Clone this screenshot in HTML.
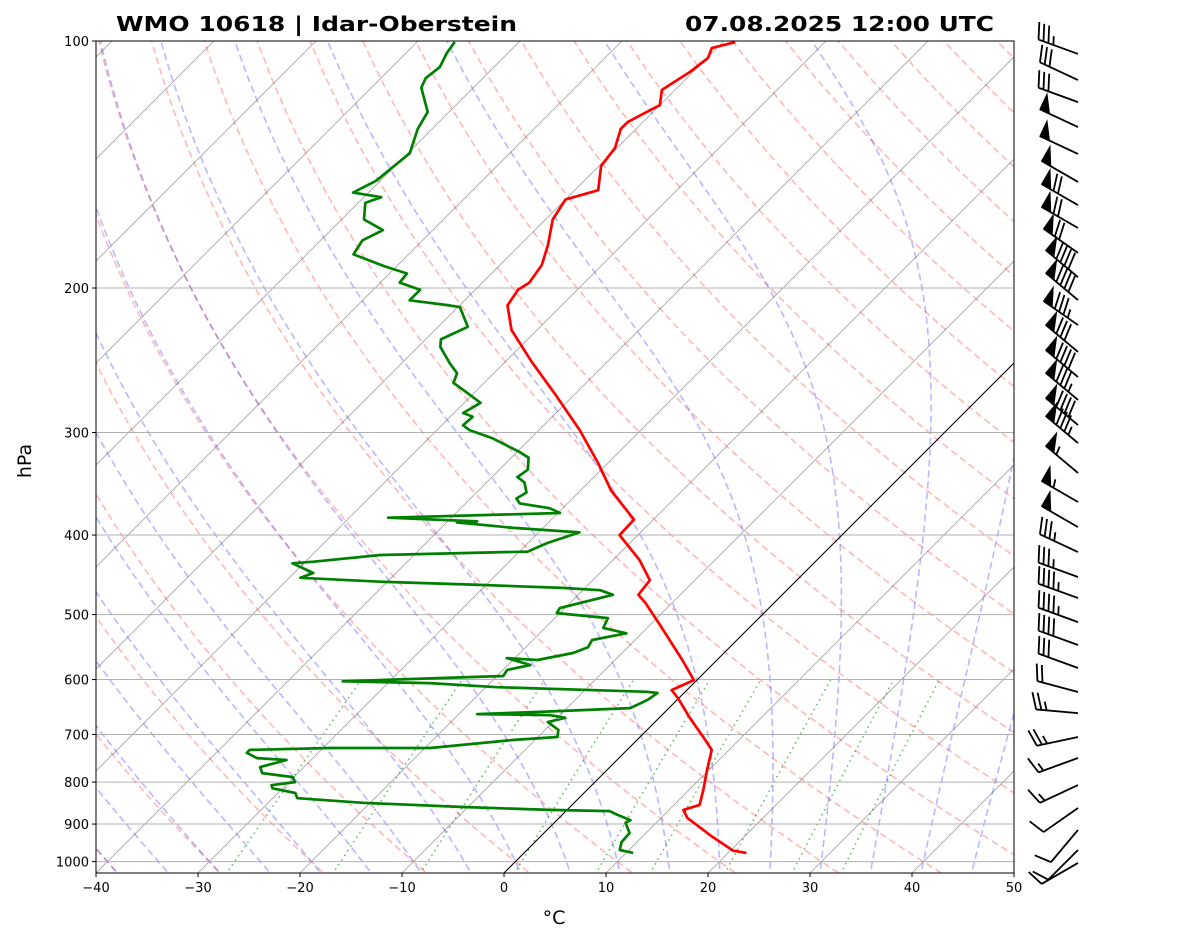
<!DOCTYPE html>
<html><head><meta charset="utf-8"><style>
html,body{margin:0;padding:0;background:#fff;}
svg{display:block;font-family:"DejaVu Sans","Liberation Sans",sans-serif;}
</style></head><body>
<svg id="chart" width="1181" height="941" viewBox="0 0 1181 941" xmlns="http://www.w3.org/2000/svg">
<defs><clipPath id="plotclip"><rect x="96" y="41" width="918" height="832"/></clipPath></defs>
<rect x="0" y="0" width="1181" height="941" fill="#fff"/>
<g id="bg" clip-path="url(#plotclip)"></g>
<g id="grid" clip-path="url(#plotclip)"></g>
<g id="series" clip-path="url(#plotclip)"></g>
<rect x="96" y="41" width="918" height="832" fill="none" stroke="#000" stroke-width="1"/>
<g id="axes"></g>
<g id="barbs"></g>
<text x="116" y="31" font-size="20" font-weight="bold" textLength="401" lengthAdjust="spacingAndGlyphs">WMO 10618 | Idar-Oberstein</text>
<text x="685" y="31" font-size="20" font-weight="bold" textLength="309" lengthAdjust="spacingAndGlyphs">07.08.2025 12:00 UTC</text>
<text x="554" y="924" font-size="19" text-anchor="middle">°C</text>
<text x="31" y="461" font-size="19" text-anchor="middle" transform="rotate(-90 31 461)">hPa</text>
</svg>
<script>
const tempP=[976,970,933,885,865,853,818,773,731,711,668,632,618,601,568,515,484,473,454,429,400,383,353,326,298,270,246,225,210,201,197,187.5,177,165,156,152,142,135,128,125.5,119.7,114.7,109.1,104.9,102,100.3];
const tempT=[21.8,20.3,16.9,12.6,11.4,12.5,11.4,9.8,8.3,6.7,3.0,-0.1,-1.5,-0.3,-3.4,-9.0,-12.6,-14.1,-14.4,-17.4,-21.8,-21.9,-27.0,-31.1,-36.0,-41.8,-47.4,-52.5,-55.3,-55.8,-55.4,-55.9,-57.3,-59.3,-60.0,-57.7,-59.8,-60.2,-61.5,-61.5,-60.0,-61.3,-60.3,-59.9,-60.5,-58.8];
const dewP=[976,968,947,923,897,890,877,868,865,858,848,837,825,814,807,800,789,780,767,752,748,737,731,727,727,711,705,691,676,668,663,661,657,650,635,623,621,613,606,603,594,584,576,565,568,557,548,537,527,519,505,498,491,473,467,464,460,456,451,445,433,431,423,419,409,397,392,386,385,381,376,371,366,361,355,345,340,333,322,317,305,298,294,287,284,276,268,261,254,247,236,231,223,211,210,207,201,197,192,188,182,175,170,165,157.5,155,153,148,137,128,122,114,111,107.6,103.4,100.3];
const dewT=[10.7,9.1,8.5,8.4,7.0,7.2,5.4,4.3,-1.7,-10.5,-20.7,-27.6,-28.3,-31.0,-31.4,-29.4,-30.1,-33.5,-34.3,-32.4,-35.5,-37.0,-37.0,-29.3,-19.5,-12.2,-8.1,-8.7,-10.5,-9.2,-11.0,-18.2,-12.3,-3.8,-2.9,-2.6,-3.7,-18.9,-25.9,-34.6,-19.4,-19.6,-17.8,-20.8,-17.6,-14.8,-13.9,-14.2,-11.5,-14.3,-14.8,-20.3,-20.5,-16.6,-18.3,-22.2,-30.6,-40.7,-48.9,-48.1,-51.1,-49.2,-43.3,-29.2,-28.1,-26.0,-32.9,-39.0,-37.1,-46.2,-29.8,-31.3,-34.7,-35.5,-35.1,-36.3,-37.5,-37.2,-38.3,-39.7,-43.7,-46.8,-47.9,-47.8,-49.1,-48.4,-50.8,-53.0,-53.6,-55.3,-57.8,-58.5,-57.1,-59.8,-61.0,-65.4,-65.4,-68.1,-68.3,-71.3,-75.4,-75.9,-74.9,-77.8,-79.3,-78.3,-81.5,-80.4,-79.8,-81.4,-82.1,-85.1,-85.6,-85.3,-86.0,-86.3];
const windP=[103.7,111.6,118.7,127.3,137.3,148.5,158.5,169,181.2,194,206.9,221.9,239.3,256.8,273.8,293.8,309,336,364.6,391.2,419.5,450,477.4,510.7,544.6,580.9,621.4,659.2,705,747.7,806.7,860.3,915,967.9,1003.7];
const windDir=[290,295,290,295,295,300,300,300,305,310,310,305,310,310,310,310,310,310,300,300,295,290,290,290,290,290,285,275,258,250,245,235,220,225,240];
const windSpd=[35,30,30,50,50,50,70,70,70,90,90,85,80,90,85,90,85,55,55,50,35,35,45,45,40,30,20,25,25,15,15,10,10,10,10];
const xTicks=[-40,-30,-20,-10,0,10,20,30,40,50];
const yTicks=[100,200,300,400,500,600,700,800,900,1000];
const mixW=[0.4,1,2,4,7,10,16,24,32];

const NS='http://www.w3.org/2000/svg';
const X0=96,X1=1014,Y0=41,Y1=873,PX=10.2,DEC=820.6;
function yOf(p){return Y0+DEC*Math.log10(p/100);}
function xOf(T,p){return X0+PX*(T+40)+(Y1-yOf(p));}
function mk(tag,attrs,parent){const e=document.createElementNS(NS,tag);for(const k in attrs)e.setAttribute(k,attrs[k]);parent.appendChild(e);return e;}
function ptsStr(arr){return arr.map(a=>a[0].toFixed(1)+','+a[1].toFixed(1)).join(' ');}
const bg=document.getElementById('bg'),grid=document.getElementById('grid'),series=document.getElementById('series'),axes=document.getElementById('axes'),barbs=document.getElementById('barbs');

// dry adiabats
for(let t0=-60;t0<=220;t0+=10){
  const pts=[];for(let p=1050;p>=100;p-=10){const T=(t0+273.15)*Math.pow(p/1000,0.2857)-273.15;pts.push([xOf(T,p),yOf(p)]);}
  const el=mk('polyline',{points:ptsStr(pts),fill:'none',stroke:'#ff0000','stroke-opacity':'0.28','stroke-width':'1.6','stroke-dasharray':'7,4'},bg);
  
  
}
// moist adiabats
function es(Tc){return 6.112*Math.exp(17.67*Tc/(Tc+243.5));}
function dTdp(T,p){const Tc=T-273.15;const e=es(Tc);const rs=0.622*e/(p-e);const Rd=287,Cp=1005,Lv=2.501e6;return (Rd*T+Lv*rs)/(p*(Cp+Lv*Lv*rs*0.622/(Rd*T*T)));}
for(let t0=-40;t0<=45;t0+=5){
  const up=[];let T=t0+273.15;for(let p=1000;p>=100;p-=2){up.push([xOf(T-273.15,p),yOf(p)]);T-=dTdp(T,p)*2;}
  const dn=[];T=t0+273.15;for(let p=1000;p<=1052;p+=2){dn.push([xOf(T-273.15,p),yOf(p)]);T+=dTdp(T,p)*2;}
  const pts=dn.reverse().concat(up);
  const el=mk('polyline',{points:ptsStr(pts),fill:'none',stroke:'#0000ff','stroke-opacity':'0.28','stroke-width':'1.6','stroke-dasharray':'7,4'},bg);
  
  
}
// mixing ratio lines
mixW.forEach(w=>{
  const pts=[];for(let p=1050;p>=600;p-=10){const ww=w/1000;const e=ww*p/(0.622+ww);const l=Math.log(e/6.112);const Td=243.5*l/(17.67-l);pts.push([xOf(Td,p),yOf(p)]);}
  const el=mk('polyline',{points:ptsStr(pts),fill:'none',stroke:'#008000','stroke-opacity':'0.6','stroke-width':'1.5','stroke-dasharray':'1.5,4'},bg);
  
  
});
// isotherms
for(let t=-150;t<=50;t+=10){
  const el=mk('line',{x1:xOf(t,1050),y1:yOf(1050),x2:xOf(t,100),y2:yOf(100),stroke:'#555','stroke-opacity':'0.55','stroke-width':'0.8'},grid);
  
  
}
yTicks.forEach(p=>{
  const el=mk('line',{x1:X0,x2:X1,y1:yOf(p),y2:yOf(p),stroke:'#b0b0b0','stroke-width':'1'},grid);
  
  
});
const zero=mk('line',{x1:xOf(0,1050),y1:yOf(1050),x2:xOf(0,100),y2:yOf(100),stroke:'#000','stroke-width':'1'},grid);



// profiles
function profile(P,T,color,name){
  const n=Math.min(P.length,T.length);const pts=[];for(let i=0;i<n;i++)pts.push([xOf(T[i],P[i]),yOf(P[i])]);
  const el=mk('polyline',{points:ptsStr(pts),fill:'none',stroke:color,'stroke-width':'2.7','stroke-linejoin':'round'},series);
  
  
}
profile(tempP,tempT,'#ff0000','temperature-line');
profile(dewP,dewT,'#008000','dewpoint-line');

// axes ticks
xTicks.forEach(t=>{
  const x=X0+PX*(t+40);
  const tk=mk('line',{x1:x,x2:x,y1:Y1,y2:Y1+4,stroke:'#000','stroke-width':'1'},axes);
  
  
  const lb=mk('text',{x:x,y:Y1+19,'font-size':'13','text-anchor':'middle'},axes);
  lb.textContent=(t<0?'\u2212'+(-t):String(t));
  
  
});
yTicks.forEach(p=>{
  const y=yOf(p);
  const tk=mk('line',{x1:X0-4,x2:X0,y1:y,y2:y,stroke:'#000','stroke-width':'1'},axes);
  
  
  const lb=mk('text',{x:X0-7,y:y+5,'font-size':'13','text-anchor':'end'},axes);
  lb.textContent=String(p);
  
  
});

// wind barbs
const BX=1078,L=42,H=0.4*L,W=0.25*L,SP=0.125*L;
for(let i=0;i<windP.length;i++){
  const by=yOf(windP[i]);const d=windDir[i]*Math.PI/180;
  const sx=Math.sin(d),sy=-Math.cos(d);const px=-sy,py=sx;
  const g=mk('g',{},barbs);
  
  
  mk('line',{x1:BX,y1:by,x2:BX+sx*L,y2:by+sy*L,stroke:'#000','stroke-width':'1.8'},g);
  let spd=Math.round(windSpd[i]/5)*5;let nP=Math.floor(spd/50);spd-=nP*50;let nF=Math.floor(spd/10);spd-=nF*10;let nH=spd>=5?1:0;
  let pos=0;
  const at=o=>[BX+sx*(L-o),by+sy*(L-o)];
  for(let k=0;k<nP;k++){const a=at(pos),b=at(pos+W);mk('polygon',{points:ptsStr([a,[a[0]+px*H,a[1]+py*H],b]),fill:'#000',stroke:'#000','stroke-width':'1'},g);pos+=W+SP*0.6;}
  if(nP===0&&nF===0&&nH)pos+=SP;
  for(let k=0;k<nF;k++){const a=at(pos);mk('line',{x1:a[0],y1:a[1],x2:a[0]+px*H+sx*W/2,y2:a[1]+py*H+sy*W/2,stroke:'#000','stroke-width':'1.8'},g);pos+=SP;}
  if(nH){const a=at(pos);mk('line',{x1:a[0],y1:a[1],x2:a[0]+px*H/2+sx*W/4,y2:a[1]+py*H/2+sy*W/4,stroke:'#000','stroke-width':'1.8'},g);}
}
</script>
</body></html>
